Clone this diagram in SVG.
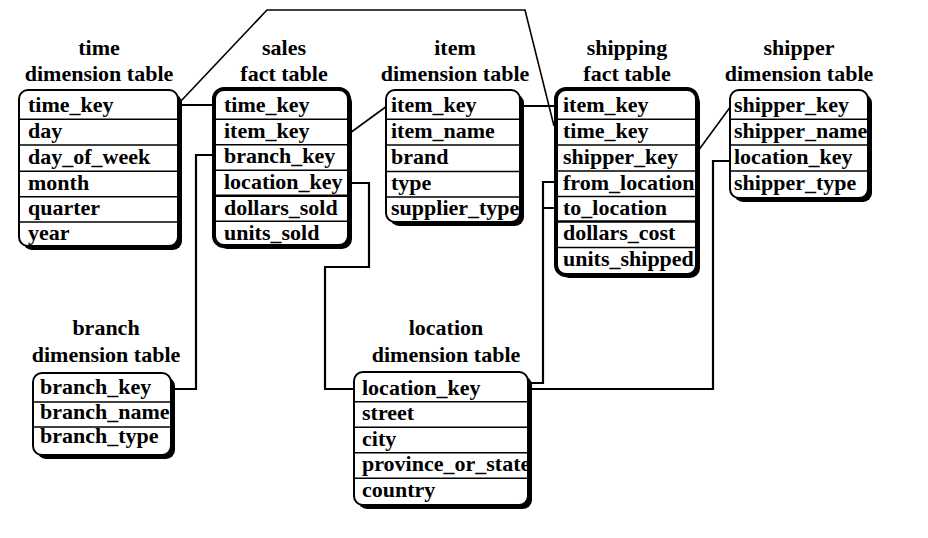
<svg xmlns="http://www.w3.org/2000/svg" width="928" height="538" viewBox="0 0 928 538">
<style>
text{font-family:"Liberation Serif","Times New Roman",serif;font-weight:bold;font-size:22px;fill:#000}
.t{text-anchor:middle}
.sh{fill:#000}
.bg{fill:#fff}
.bd{fill:none;stroke:#000;stroke-width:2}
.bdk{fill:none;stroke:#000;stroke-width:4}
.sep{stroke:#000;stroke-width:1.5}
.sepk{stroke:#000;stroke-width:2.5}
.c{fill:none;stroke:#000;stroke-width:2.2}
.cd{fill:none;stroke:#000;stroke-width:1.6}
</style>
<rect width="928" height="538" fill="#fff"/>
<g id="connectors">
<path class="c" d="M178,105 H214"/>
<path class="cd" d="M181,101 L267,10 H525 L554,126"/>
<path class="cd" d="M350,133 L387,106"/>
<path class="c" d="M214,155 H196 V389 H171"/>
<path class="c" d="M349,183 H369 V267 H325 V389 H355"/>
<path class="c" d="M519,106 H557"/>
<path class="cd" d="M698,151 L731,106"/>
<path class="c" d="M731,161 H713 V389 H527"/>
<path class="c" d="M557,182 H543 V383 H527 M543,208 H557"/>
</g>
<g id="time">
<text class="t" x="99" y="55">time</text>
<text class="t" x="99" y="81">dimension table</text>
<rect class="sh" x="23" y="94" width="159" height="156" rx="9"/>
<rect class="bg" x="19" y="90" width="159" height="156" rx="9"/>
<line class="sep" x1="19" y1="119.3" x2="178" y2="119.3"/>
<line class="sep" x1="19" y1="145" x2="178" y2="145"/>
<line class="sep" x1="19" y1="171.3" x2="178" y2="171.3"/>
<line class="sep" x1="19" y1="196.7" x2="178" y2="196.7"/>
<line class="sep" x1="19" y1="222" x2="178" y2="222"/>
<text x="28" y="112">time_key</text>
<text x="28" y="138">day</text>
<text x="28" y="164">day_of_week</text>
<text x="28" y="189.5">month</text>
<text x="28" y="215">quarter</text>
<text x="28" y="240">year</text>
<rect class="bd" x="19" y="90" width="159" height="156" rx="9"/>
</g>
<g id="sales">
<text class="t" x="284" y="55">sales</text>
<text class="t" x="284" y="81">fact table</text>
<rect class="sh" x="217" y="92" width="135" height="157" rx="10"/>
<rect class="bg" x="214" y="89" width="135" height="157" rx="10"/>
<line class="sep" x1="214" y1="119.3" x2="349" y2="119.3"/>
<line class="sep" x1="214" y1="144.7" x2="349" y2="144.7"/>
<line class="sep" x1="214" y1="170.3" x2="349" y2="170.3"/>
<line class="sepk" x1="214" y1="195.7" x2="349" y2="195.7"/>
<line class="sep" x1="214" y1="221.3" x2="349" y2="221.3"/>
<text x="224" y="112">time_key</text>
<text x="224" y="137.5">item_key</text>
<text x="224" y="163">branch_key</text>
<text x="224" y="189">location_key</text>
<text x="224" y="214.5">dollars_sold</text>
<text x="224" y="240">units_sold</text>
<rect class="bdk" x="214" y="89" width="135" height="157" rx="10"/>
</g>
<g id="item">
<text class="t" x="455" y="55">item</text>
<text class="t" x="455" y="81">dimension table</text>
<rect class="sh" x="390" y="94" width="134" height="132" rx="9"/>
<rect class="bg" x="386" y="90" width="134" height="132" rx="9"/>
<line class="sep" x1="386" y1="119.3" x2="520" y2="119.3"/>
<line class="sep" x1="386" y1="145" x2="520" y2="145"/>
<line class="sep" x1="386" y1="171.5" x2="520" y2="171.5"/>
<line class="sep" x1="386" y1="197" x2="520" y2="197"/>
<text x="391" y="112">item_key</text>
<text x="391" y="138">item_name</text>
<text x="391" y="164">brand</text>
<text x="391" y="189.5">type</text>
<text x="391" y="215">supplier_type</text>
<rect class="bd" x="386" y="90" width="134" height="132" rx="9"/>
</g>
<g id="shipping">
<text class="t" x="627" y="55">shipping</text>
<text class="t" x="627" y="81">fact table</text>
<rect class="sh" x="559" y="92" width="141" height="186" rx="10"/>
<rect class="bg" x="556" y="89" width="141" height="186" rx="10"/>
<line class="sep" x1="556" y1="119.3" x2="697" y2="119.3"/>
<line class="sep" x1="556" y1="145" x2="697" y2="145"/>
<line class="sep" x1="556" y1="171" x2="697" y2="171"/>
<line class="sep" x1="556" y1="196.5" x2="697" y2="196.5"/>
<line class="sepk" x1="556" y1="221.5" x2="697" y2="221.5"/>
<line class="sep" x1="556" y1="247.5" x2="697" y2="247.5"/>
<text x="563" y="112">item_key</text>
<text x="563" y="138">time_key</text>
<text x="563" y="164">shipper_key</text>
<text x="563" y="189.5">from_location</text>
<text x="563" y="215">to_location</text>
<text x="563" y="240">dollars_cost</text>
<text x="563" y="266">units_shipped</text>
<rect class="bdk" x="556" y="89" width="141" height="186" rx="10"/>
</g>
<g id="shipper">
<text class="t" x="799" y="55">shipper</text>
<text class="t" x="799" y="81">dimension table</text>
<rect class="sh" x="734" y="94" width="138" height="108" rx="9"/>
<rect class="bg" x="730" y="90" width="138" height="108" rx="9"/>
<line class="sep" x1="730" y1="119.3" x2="868" y2="119.3"/>
<line class="sep" x1="730" y1="145" x2="868" y2="145"/>
<line class="sep" x1="730" y1="171" x2="868" y2="171"/>
<text x="734" y="112">shipper_key</text>
<text x="734" y="138">shipper_name</text>
<text x="734" y="164">location_key</text>
<text x="734" y="189.5">shipper_type</text>
<rect class="bd" x="730" y="90" width="138" height="108" rx="9"/>
</g>
<g id="branch">
<text class="t" x="106" y="335">branch</text>
<text class="t" x="106" y="362">dimension table</text>
<rect class="sh" x="37" y="377" width="138" height="82" rx="9"/>
<rect class="bg" x="33" y="373" width="138" height="82" rx="9"/>
<line class="sep" x1="33" y1="402" x2="171" y2="402"/>
<line class="sep" x1="33" y1="427" x2="171" y2="427"/>
<text x="40" y="393.5">branch_key</text>
<text x="40" y="418.5">branch_name</text>
<text x="40" y="443">branch_type</text>
<rect class="bd" x="33" y="373" width="138" height="82" rx="9"/>
</g>
<g id="location">
<text class="t" x="446" y="335">location</text>
<text class="t" x="446" y="362">dimension table</text>
<rect class="sh" x="358" y="376" width="174" height="133" rx="9"/>
<rect class="bg" x="354" y="372" width="174" height="133" rx="9"/>
<line class="sep" x1="354" y1="401.7" x2="528" y2="401.7"/>
<line class="sep" x1="354" y1="427.3" x2="528" y2="427.3"/>
<line class="sep" x1="354" y1="452.7" x2="528" y2="452.7"/>
<line class="sep" x1="354" y1="478.3" x2="528" y2="478.3"/>
<text x="362" y="394.5">location_key</text>
<text x="362" y="420">street</text>
<text x="362" y="445.5">city</text>
<text x="362" y="471">province_or_state</text>
<text x="362" y="496.5">country</text>
<rect class="bd" x="354" y="372" width="174" height="133" rx="9"/>
</g>
</svg>
